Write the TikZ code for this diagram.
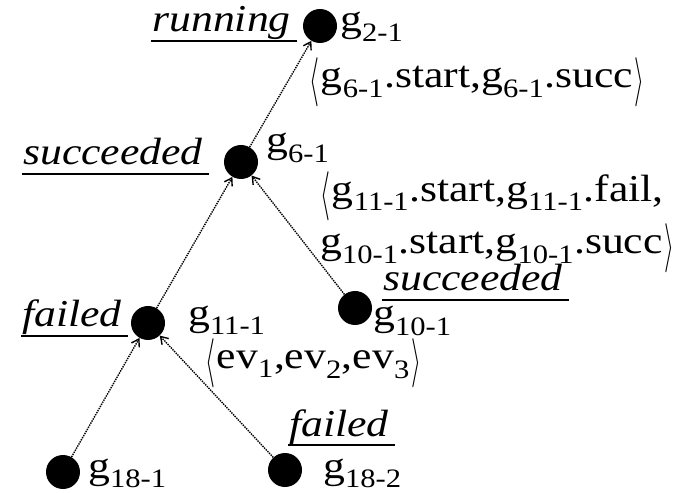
\documentclass[tikz,border=0pt]{standalone}
\usepackage{fontspec}
\setmainfont{Liberation Serif}[
  FakeStretch=1.15,
  ItalicFont={Liberation Serif Italic}]
\usetikzlibrary{arrows.meta}

\newcommand{\gid}[1]{g\textsubscript{#1}}
\newcommand{\lblsize}{\fontsize{38}{52}\selectfont}
% tall thin angle brackets around the event lists
\newcommand{\lseq}{\raisebox{-0.18em}{\resizebox{0.26em}{0.97em}{$\langle$}}\kern0.05em}
\newcommand{\rseq}{\kern0.05em\raisebox{-0.18em}{\resizebox{0.26em}{0.97em}{$\rangle$}}}

\tikzset{
  goal/.style={circle, fill=black, minimum size=34pt, inner sep=0pt},
  status/.style={font=\lblsize\itshape, inner sep=0pt},
  seq/.style={inner sep=0pt, align=left},
  link/.style={densely dotted, line width=1.4pt, -{Straight Barb[length=7pt,width=9pt]}},
  uline/.style={line width=2.5pt, shorten <=-1pt, shorten >=-6pt}
}

\begin{document}
\begin{tikzpicture}[x=1pt, y=1pt, every node/.style={font=\lblsize}]
  \useasboundingbox (0,0) rectangle (676,492);

  % goal nodes
  \node[goal] (g21) at (320,466) {};
  \node[goal] (g61) at (241,330) {};
  \node[goal] (g101) at (355,184) {};
  \node[goal] (g111) at (148,169) {};
  \node[goal] (g181) at (63,20) {};
  \node[goal] (g182) at (285,22) {};

  % goal ids
  \node[anchor=base west, inner sep=0pt] (id21) at (340,460) {\gid{2-1}};
  \node[anchor=base west, inner sep=0pt] (id61) at (266,339) {\gid{6-1}};
  \node[anchor=base west, inner sep=0pt] (id101) at (373,166) {\gid{10-1}};
  \node[anchor=base west, inner sep=0pt] (id111) at (188,166) {\gid{11-1}};
  \node[anchor=base west, inner sep=0pt] (id181) at (88,14) {\gid{18-1}};
  \node[anchor=base west, inner sep=0pt] (id182) at (323,14) {\gid{18-2}};

  % status of each goal
  \node[status, anchor=base east] (st21) at (291,460) {running};
  \node[status, anchor=base east] (st61) at (203,327) {succeeded};
  \node[status, anchor=base west] (st101) at (383,201) {succeeded};
  \node[status, anchor=base east] (st111) at (122,165) {failed};
  \node[status, anchor=base west] (st182) at (289,56) {failed};
  \foreach \s in {st21,st61,st101,st111,st182}
    \draw[uline] ([yshift=-9pt]\s.base west) -- ([yshift=-9pt]\s.base east);

  % event sequences
  \node[seq, anchor=base west] (sq21) at (309,404)
    {\lseq\gid{6-1}.start,\gid{6-1}.succ\rseq};
  \node[seq, anchor=base west] (sq61) at (320,238)
    {\lseq\gid{11-1}.start,\gid{11-1}.fail,\\ \gid{10-1}.start,\gid{10-1}.succ\rseq};
  \node[seq, anchor=base west] (sq111) at (205,123)
    {\lseq ev\textsubscript{1},ev\textsubscript{2},ev\textsubscript{3}\rseq};

  % links from subgoal to parent
  \draw[link] (g61) -- (g21);
  \draw[link] (g111) -- (g61);
  \draw[link] (g101) -- (g61);
  \draw[link] (g181) -- (g111);
  \draw[link] (g182) -- (g111);
\end{tikzpicture}
\end{document}
